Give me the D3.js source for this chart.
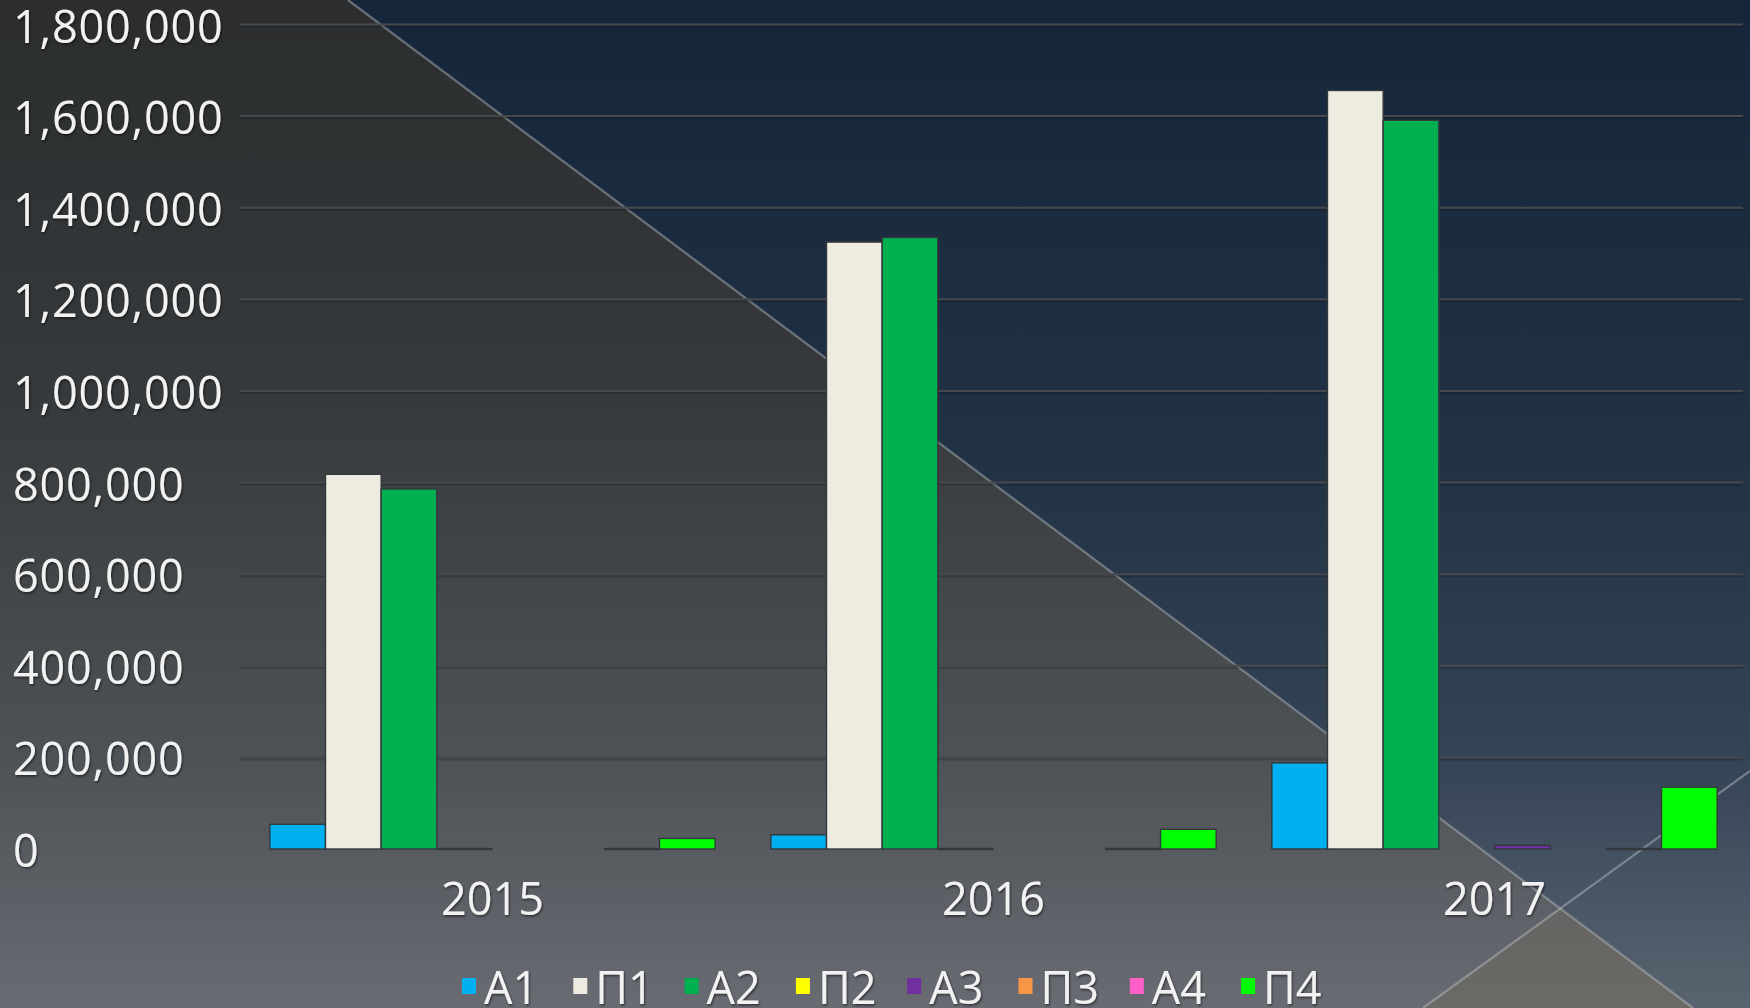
<!DOCTYPE html>
<html><head><meta charset="utf-8">
<script src="https://cdn.jsdelivr.net/npm/d3@7"></script>
<style>html,body{margin:0;padding:0;background:#333;overflow:hidden} svg{display:block;}</style>
</head><body>
<svg id="chart" width="1750" height="1008"></svg>
<script>
// ---- data ----
const years = ["2015", "2016", "2017"];
const seriesNames = ["А1", "П1", "А2", "П2", "А3", "П3", "А4", "П4"];
const seriesColors = ["#00b0f0", "#eeece1", "#00b050", "#ffff00", "#7030a0", "#f79646", "#ff5fc8", "#00ff00"];
const valuesA1 = [54000, 31000, 188000];
const valuesP1 = [818000, 1325000, 1656000];
const valuesA2 = [786000, 1335000, 1591000];
const valuesP2 = [0, 0, null];
const valuesA3 = [null, null, 8000];
const valuesP3 = [null, null, null];
const valuesA4 = [0, 0, 0];
const valuesP4 = [23000, 43000, 135000];
const yTickValues = [0, 200000, 400000, 600000, 800000, 1000000, 1200000, 1400000, 1600000, 1800000];

const seriesValues = [valuesA1, valuesP1, valuesA2, valuesP2, valuesA3, valuesP3, valuesA4, valuesP4];

// ---- layout ----
const W = 1750, H = 1008;
const svg = d3.select("#chart");
const defs = svg.append("defs");

function vgrad(id, stops) {
  const g = defs.append("linearGradient").attr("id", id)
    .attr("gradientUnits", "userSpaceOnUse").attr("x1", 0).attr("y1", 0).attr("x2", 0).attr("y2", H);
  stops.forEach(s => g.append("stop").attr("offset", s[0]).attr("stop-color", s[1]));
}
vgrad("greyBg", [[0, "#2b2d2e"], [0.4, "#363a3c"], [0.75, "#4d5256"], [1, "#686b72"]]);
vgrad("navyBg", [[0, "#16263a"], [0.45, "#223245"], [0.75, "#344356"], [1, "#5a6470"]]);
vgrad("warmBg", [[0, "#5d5d5c"], [0.9, "#656462"], [1, "#6c6a67"]]);

const sh = defs.append("filter").attr("id", "tshadow").attr("x", "-10%").attr("y", "-20%").attr("width", "120%").attr("height", "140%");
sh.append("feDropShadow").attr("dx", 1).attr("dy", 1.5).attr("stdDeviation", 1.2).attr("flood-color", "#000").attr("flood-opacity", 0.55);

// background
const line1 = [[348, 0], [1693, 1008]];
const line2 = [[1423, 1008], [1750, 771]];
const ix = [1560, 909];
svg.append("polygon").attr("points", [[0, 0], [348, 0], [1693, 1008], [0, 1008]].join(" ")).attr("fill", "url(#greyBg)");
svg.append("polygon").attr("points", [[348, 0], [1750, 0], [1750, 1008], [1693, 1008]].join(" ")).attr("fill", "url(#navyBg)");
svg.append("polygon").attr("points", [[1423, 1008], ix, [1693, 1008]].join(" ")).attr("fill", "url(#warmBg)");
[line1, line2].forEach(l => svg.append("line")
  .attr("x1", l[0][0]).attr("y1", l[0][1]).attr("x2", l[1][0]).attr("y2", l[1][1])
  .attr("stroke", "rgba(190,195,200,0.45)").attr("stroke-width", 2.2));

// scales
const x0 = d3.scaleBand().domain(years).range([242, 1745]).padding(0);
const x1 = d3.scaleBand().domain(seriesNames).range([0, x0.bandwidth()]).paddingInner(0).paddingOuter(0.5);
const y = d3.scaleLinear().domain([0, 1800000]).range([849, 24.5]);

// gridlines
const gridTicks = yTickValues.filter(v => v > 0);
svg.append("g").selectAll("line.sh").data(gridTicks).join("line")
  .attr("x1", 240).attr("x2", 1743).attr("y1", d => y(d) + 2).attr("y2", d => y(d) + 2)
  .attr("stroke", "rgba(0,0,0,0.18)").attr("stroke-width", 2);
svg.append("g").selectAll("line.g").data(gridTicks).join("line")
  .attr("x1", 240).attr("x2", 1743).attr("y1", d => y(d)).attr("y2", d => y(d))
  .attr("stroke", "#46494c").attr("stroke-width", 2);

// y labels
svg.append("g").selectAll("text").data(yTickValues).join("text")
  .attr("x", 13).attr("y", d => y(d) + 18)
  .attr("font-family", "'Open Sans', sans-serif").attr("font-size", 45)
  .attr("letter-spacing", 0.8)
  .attr("fill", "#f2f2f2").attr("filter", "url(#tshadow)")
  .text(d => d3.format(",")(d));

// bars
const barData = [];
years.forEach((yr, i) => seriesNames.forEach((s, j) => {
  const v = seriesValues[j][i];
  if (v !== null) barData.push({ year: yr, series: s, color: seriesColors[j], value: v });
}));
svg.append("g").selectAll("rect").data(barData.filter(d => d.value > 0)).join("rect")
  .attr("x", d => x0(d.year) + x1(d.series))
  .attr("width", x1.bandwidth())
  .attr("y", d => y(d.value))
  .attr("height", d => y(0) - y(d.value))
  .attr("fill", d => d.color)
  .attr("stroke", "#33383c").attr("stroke-width", 1.4);
// zero-height bars show only their outline
svg.append("g").selectAll("line").data(barData.filter(d => d.value === 0)).join("line")
  .attr("x1", d => x0(d.year) + x1(d.series))
  .attr("x2", d => x0(d.year) + x1(d.series) + x1.bandwidth())
  .attr("y1", y(0)).attr("y2", y(0))
  .attr("stroke", "#33383c").attr("stroke-width", 2.4);

// category labels
svg.append("g").selectAll("text").data(years).join("text")
  .attr("x", d => x0(d) + x0.bandwidth() / 2).attr("y", 915)
  .attr("text-anchor", "middle")
  .attr("font-family", "'Open Sans', sans-serif").attr("font-size", 45)
  .attr("fill", "#f2f2f2").attr("filter", "url(#tshadow)")
  .text(d => d);

// legend
const legendX = d3.scaleBand().domain(seriesNames).range([462, 462 + 8 * 111.3]);
const lg = svg.append("g").selectAll("g").data(seriesNames).join("g")
  .attr("transform", d => `translate(${legendX(d)},0)`);
lg.append("rect").attr("x", 0).attr("y", 978).attr("width", 14).attr("height", 16)
  .attr("fill", (d, i) => seriesColors[i]);
lg.append("text").attr("x", 22).attr("y", 1004)
  .attr("font-family", "'Open Sans', sans-serif").attr("font-size", 45)
  .attr("fill", "#f2f2f2").attr("filter", "url(#tshadow)")
  .text(d => d);
</script>
</body></html>
